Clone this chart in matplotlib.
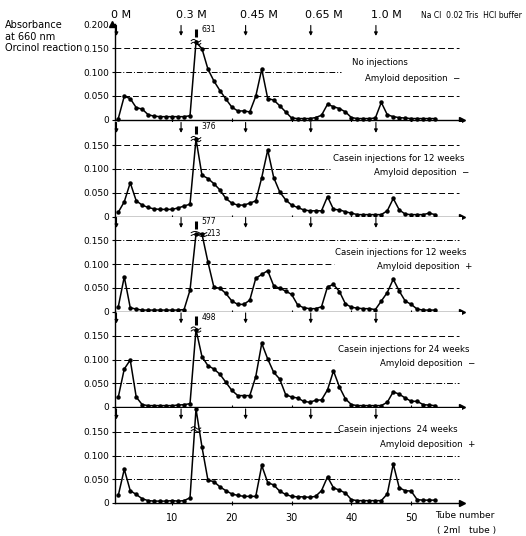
import numpy as np
import matplotlib
matplotlib.use('Agg')
import matplotlib.pyplot as plt
from matplotlib import font_manager
from matplotlib.transforms import blended_transform_factory

# pick a narrow font if there is one
names = {f.name for f in font_manager.fontManager.ttflist}
FONT = 'Liberation Sans Narrow' if 'Liberation Sans Narrow' in names else 'DejaVu Sans'
plt.rcParams['font.family'] = FONT

tubes = np.arange(1, 55)

# absorbance at 660 nm per tube (values > 0.2 are off scale)
no_injection = [0.002, 0.049, 0.044, 0.025, 0.022, 0.010, 0.007, 0.006, 0.006, 0.006,
                0.006, 0.006, 0.008, 0.631, 0.149, 0.106, 0.081, 0.061, 0.043, 0.026,
                0.018, 0.018, 0.016, 0.049, 0.106, 0.044, 0.041, 0.029, 0.016, 0.003,
                0.002, 0.002, 0.002, 0.004, 0.009, 0.032, 0.027, 0.023, 0.016, 0.004,
                0.002, 0.002, 0.002, 0.003, 0.036, 0.010, 0.006, 0.004, 0.003, 0.002,
                0.002, 0.002, 0.002, 0.002]
casein_12w_neg = [0.009, 0.031, 0.071, 0.033, 0.024, 0.019, 0.016, 0.015, 0.015, 0.015,
                  0.018, 0.022, 0.026, 0.376, 0.087, 0.080, 0.069, 0.056, 0.038, 0.028,
                  0.024, 0.024, 0.028, 0.033, 0.082, 0.140, 0.082, 0.052, 0.035, 0.024,
                  0.019, 0.014, 0.012, 0.012, 0.012, 0.042, 0.015, 0.014, 0.010, 0.007,
                  0.004, 0.004, 0.004, 0.004, 0.004, 0.012, 0.038, 0.014, 0.005, 0.004,
                  0.004, 0.004, 0.007, 0.004]
casein_12w_pos = [0.010, 0.073, 0.008, 0.005, 0.003, 0.003, 0.003, 0.003, 0.003, 0.003,
                  0.003, 0.004, 0.045, 0.577, 0.213, 0.104, 0.051, 0.049, 0.038, 0.022,
                  0.015, 0.015, 0.024, 0.070, 0.078, 0.086, 0.054, 0.049, 0.043, 0.036,
                  0.014, 0.008, 0.006, 0.006, 0.010, 0.052, 0.057, 0.042, 0.016, 0.009,
                  0.007, 0.006, 0.006, 0.004, 0.022, 0.040, 0.068, 0.043, 0.022, 0.015,
                  0.005, 0.003, 0.003, 0.003]
casein_24w_neg = [0.021, 0.080, 0.099, 0.021, 0.005, 0.003, 0.003, 0.003, 0.003, 0.003,
                  0.004, 0.005, 0.007, 0.498, 0.106, 0.087, 0.080, 0.069, 0.052, 0.035,
                  0.024, 0.024, 0.024, 0.064, 0.134, 0.101, 0.073, 0.059, 0.026, 0.021,
                  0.019, 0.012, 0.010, 0.014, 0.015, 0.036, 0.076, 0.042, 0.017, 0.005,
                  0.003, 0.003, 0.003, 0.003, 0.003, 0.010, 0.032, 0.027, 0.019, 0.012,
                  0.012, 0.005, 0.004, 0.003]
casein_24w_pos = [0.016, 0.071, 0.026, 0.018, 0.009, 0.005, 0.004, 0.004, 0.004, 0.005,
                  0.004, 0.005, 0.011, 0.200, 0.118, 0.048, 0.045, 0.034, 0.026, 0.019,
                  0.016, 0.014, 0.014, 0.014, 0.079, 0.043, 0.038, 0.025, 0.018, 0.014,
                  0.013, 0.013, 0.012, 0.014, 0.026, 0.055, 0.032, 0.027, 0.021, 0.007,
                  0.005, 0.005, 0.005, 0.005, 0.005, 0.019, 0.082, 0.032, 0.026, 0.025,
                  0.007, 0.006, 0.006, 0.006]

series = [no_injection, casein_12w_neg, casein_12w_pos, casein_24w_neg, casein_24w_pos]
titles = [('No injections', 'Amyloid deposition  \u2212'),
          ('Casein injections for 12 weeks', 'Amyloid deposition  \u2212'),
          ('Casein injections for 12 weeks', 'Amyloid deposition  +'),
          ('Casein injections for 24 weeks', 'Amyloid deposition  \u2212'),
          ('Casein injections  24 weeks', 'Amyloid deposition  +')]

salts = ['0 M', '0.3 M', '0.45 M', '0.65 M', '1.0 M']
step_tubes = [0.7, 11.5, 22.3, 33.2, 44.1]
yticks = [0, 0.05, 0.10, 0.15]
yticklabels = ['0', '0.050', '0.100', '0.150']
xticks = [10, 20, 30, 40, 50]

DASH = (0, (6, 3))
DASHDOT = (0, (6, 2, 1, 2))

# per panel: (y, xmax fraction, style) of the reference lines
grid = [[(0.05, 0.99, DASH), (0.10, 0.65, DASHDOT), (0.15, 0.99, DASH)],
        [(0.05, 0.99, DASH), (0.10, 0.62, DASHDOT), (0.15, 0.99, DASH)],
        [(0.05, 0.99, DASH), (0.10, 0.63, DASH), (0.15, 0.99, DASHDOT)],
        [(0.05, 0.99, DASHDOT), (0.10, 0.63, DASH), (0.15, 0.99, DASH)],
        [(0.05, 0.99, DASHDOT), (0.10, 0.99, DASHDOT), (0.15, 0.65, DASH)]]
# right ends of the two text lines in each panel
text_pos = [((49.5, 0.119), (58.2, 0.087)),
            ((59.0, 0.122), (59.8, 0.093)),
            ((59.2, 0.124), (60.3, 0.095)),
            ((59.8, 0.122), (60.7, 0.091)),
            ((57.7, 0.154), (60.7, 0.124))]

fig = plt.figure(figsize=(5.26, 5.36), dpi=100)
left, width = 115 / 526, 347 / 526
zeros_px = [119.5, 216.5, 311.5, 407, 503]
h = 95 / 536

axes = []
for i, vals in enumerate(series):
    vals = np.array(vals)
    ax = fig.add_axes([left, 1 - zeros_px[i] / 536, width, h])
    axes.append(ax)
    ax.set_xlim(0.45, 58.5)
    ax.set_ylim(0, 0.2)
    for s in ['top', 'right']:
        ax.spines[s].set_visible(False)
    ax.spines['left'].set_linewidth(1.0)
    ax.spines['bottom'].set_linewidth(1.0)
    ax.plot(1, 0, '>k', ms=4, transform=ax.get_yaxis_transform(), clip_on=False)

    for y, xm, ls in grid[i]:
        ax.axhline(y, xmin=0, xmax=xm, color='k', lw=0.7, ls=ls)

    cap = 0.198 if i == 4 else 0.163
    brk = 0.155 if i == 4 else cap
    ax.plot(tubes, np.minimum(vals, cap), color='k', lw=1.1, marker='o', ms=2.2,
            clip_on=False, zorder=3)

    # break mark on the off scale peak
    off = tubes[vals >= 0.2]
    x0, x1 = off.min() - 0.8, off.max() + 0.8
    xs = np.linspace(x0, x1, 40)
    for dy in (-0.003, 0.003):
        ax.plot(xs, brk + dy + 0.0025 * np.sin((xs - x0) / (x1 - x0) * 2 * np.pi),
                color='k', lw=0.7, zorder=4)
    big = [(t, v) for t, v in zip(tubes, vals) if v > 0.2]
    for j, (t, v) in enumerate(big):
        lab = '%d' % round(v * 1000)
        if j == 0:
            ax.plot([t, t], [cap + 0.010, cap + 0.028], color='k', lw=2.2,
                    solid_capstyle='butt', clip_on=False)
            ax.text(t + 0.9, cap + 0.026, lab, fontsize=5.5, va='center')
        else:
            ax.text(t + 0.7, cap + 0.001, lab, fontsize=5.5, va='center')

    # salt step arrows
    for t in step_tubes:
        ax.annotate('', xy=(t, 0.176), xytext=(t, 0.198),
                    arrowprops=dict(arrowstyle='-|>', lw=0.8, color='k',
                                    mutation_scale=5, shrinkA=0, shrinkB=0))

    (tx1, ty1), (tx2, ty2) = text_pos[i]
    ax.text(tx1, ty1, titles[i][0], fontsize=6.2, ha='right', va='center', clip_on=False)
    ax.text(tx2, ty2, titles[i][1], fontsize=6.2, ha='right', va='center', clip_on=False)

    if i == 0:
        ax.set_yticks(yticks + [0.2])
        ax.set_yticklabels(yticklabels + ['0.200'])
        ax.plot(0, 1, '^k', ms=4, transform=ax.get_xaxis_transform(), clip_on=False)
    else:
        ax.set_yticks(yticks)
        ax.set_yticklabels(yticklabels)
    ax.tick_params(axis='y', length=2, width=0.8, labelsize=6.5, pad=2)
    ax.set_xticks(xticks)
    ax.tick_params(axis='x', direction='inout', length=3, width=0.8, labelsize=7, pad=6)
    if i < 4:
        ax.set_xticklabels([])

# headers
top = axes[0]
tr = blended_transform_factory(top.transData, fig.transFigure)
for s, t in zip(salts, step_tubes):
    fig.text(t - 0.9, 0.972, s, transform=tr, fontsize=8, ha='left', va='center')
fig.text(0.993, 0.972, 'Na Cl  0.02 Tris  HCl buffer', fontsize=5.5, ha='right', va='center')

fig.text(0.01, 0.953, 'Absorbance', fontsize=7, va='center')
fig.text(0.01, 0.931, 'at 660 nm', fontsize=7, va='center')
fig.text(0.01, 0.910, 'Orcinol reaction', fontsize=7, va='center')

fig.text(435 / 526, 1 - 515 / 536, 'Tube number', fontsize=6.5, va='center')
fig.text(437 / 526, 1 - 530 / 536, '( 2ml   tube )', fontsize=6.5, va='center')

fig.savefig('out.png', dpi=100)
